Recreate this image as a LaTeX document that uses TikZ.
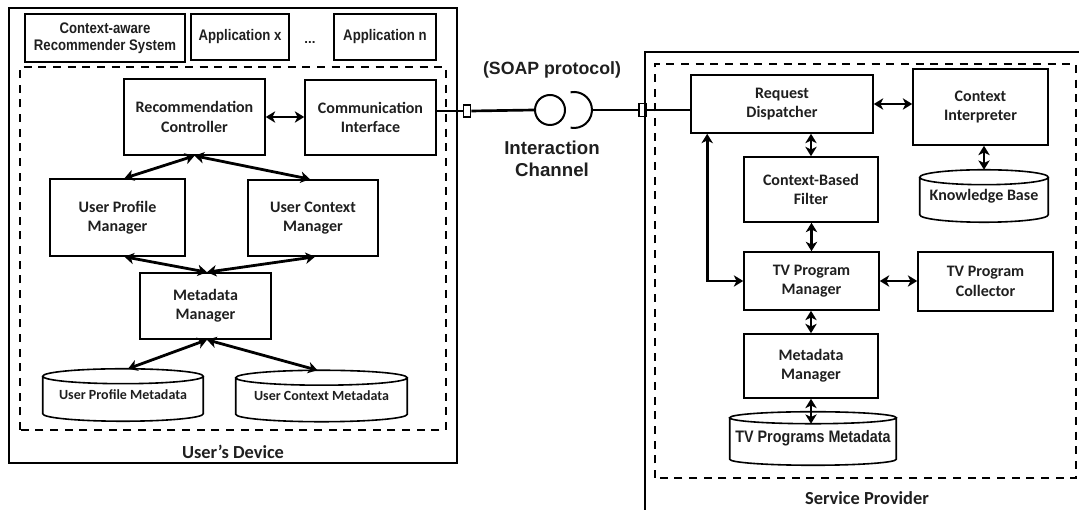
\documentclass[tikz,border=0pt]{standalone}
\usepackage{fontspec}
\usetikzlibrary{arrows.meta,calc}
\newfontfamily\calfont{Carlito}
\newfontfamily\arialfont{Liberation Sans}
\newfontfamily\narrowfont{Liberation Sans}[FakeStretch=0.86]
\definecolor{txt}{gray}{0.12}

% outline of a drum (database) around a named node: #1 node, #2 y radius of the ellipses
\newcommand\drumoutline[2]{%
  \draw[line width=1.2pt] let \p1=($(#1.north east)-(#1.north west)$), \n1={0.5*\x1} in
    (#1.north west) -- (#1.south west)
    arc[start angle=180, end angle=360, x radius=\n1, y radius=#2]
    -- (#1.north east)
    (#1.north) ellipse[x radius=\n1, y radius=#2];
}

\tikzset{
  sz/.style 2 args={minimum width=#1*0.75pt, minimum height=#2*0.75pt},
  comp/.style={draw, line width=1.2pt, align=center, inner sep=0pt, text=txt,
    font=\calfont\bfseries\fontsize{12}{14.5}\selectfont},
  app/.style={draw, line width=1.2pt, align=center, inner sep=0pt, text=txt,
    font=\narrowfont\bfseries\fontsize{11.5}{13}\selectfont},
  drum/.style={inner sep=0pt, align=center, text=txt},
  tip/.tip={Stealth[length=7pt,width=8.5pt,inset=2pt]},
  biarr/.style={line width=2.1pt, tip-tip},
  frame/.style={line width=1.5pt},
  zone/.style={line width=1.5pt, dash pattern=on 6pt off 5pt},
  wire/.style={line width=2pt},
  port/.style={draw, line width=1.2pt, fill=white, inner sep=0pt},
  caption/.style={text=txt, font=\calfont\bfseries\fontsize{13.8}{16}\selectfont},
}

\begin{document}
\begin{tikzpicture}[x=0.75pt,y=0.75pt]
\useasboundingbox (0,0) rectangle (1079,510);
\clip (0,0) rectangle (1079,510);

% ---------------- user's device ----------------
\draw[frame] (9,47) rectangle (457,502);
\node[app, sz={160}{48}] (cars) at (105,472) {Context-aware\\Recommender System};
\node[app, sz={98}{46}] (appx) at (240,473) {Application x};
\node[text=txt, font=\arialfont\bfseries\fontsize{10}{12}\selectfont] (dots) at (310,467) {...};
\node[app, sz={102}{46}] (appn) at (385,473) {Application n};
\draw[zone] (20,80) rectangle (446,443);

\node[comp, sz={141}{76}] (RC) at (194.5,393) {Recommendation\\Controller};
\node[comp, sz={131}{75}] (CI) at (370.5,392.5) {Communication\\Interface};
\node[comp, sz={135}{77}] (UPM) at (117.5,292.5) {User Profile\\Manager};
\node[comp, sz={130}{76}] (UCM) at (313,292) {User Context\\Manager};
\node[comp, sz={131}{66}] (MM) at (205.5,204) {Metadata\\Manager};
\node[drum, sz={160}{37}, font=\calfont\bfseries\fontsize{10.5}{12.5}\selectfont] (UPMD) at (123,115) {User Profile Metadata};
\node[drum, sz={171}{36}, font=\calfont\bfseries\fontsize{10.5}{12.5}\selectfont] (UCMD) at (321.5,114) {User Context Metadata};
\drumoutline{UPMD}{5.6pt}
\drumoutline{UCMD}{5.6pt}
\node[caption] (devcap) at (233,58) {User’s Device};

\draw[biarr] (RC.east) -- (RC.east -| CI.west);
\draw[biarr] (RC.south) -- ($(UPM.north)+(7,0)$);
\draw[biarr] (RC.south) -- ($(UCM.north)+(-3,0)$);
\draw[biarr] ($(UPM.south)+(7,0)$) -- ($(MM.north)+(1.5,0)$);
\draw[biarr] ($(UCM.south)+(2,0)$) -- ($(MM.north)+(1.5,0)$);
\draw[biarr] ($(MM.south)+(1.5,0)$) -- ($(UPMD.north)+(5,7.5)$);
\draw[biarr] ($(MM.south)+(1.5,0)$) -- ($(UCMD.north)+(-4,7.5)$);

% ---------------- interaction channel ----------------
\node[port, sz={7}{12}] (lport) at (467,399) {};
\node[draw, circle, line width=1.5pt, minimum size=30*0.75pt, inner sep=0pt] (plug) at (550,400) {};
\draw[line width=1.5pt] (574,400) ++(101:18) arc[start angle=101, end angle=-101, radius=18];
\coordinate (sock) at (592,400);
\node[port, sz={7}{13}] (rport) at (642.5,400) {};
\draw[wire] (CI.east |- lport) -- (lport.west);
\draw[wire] (lport.east) -- (plug.west);
\draw[wire] (sock) -- (rport.west);
\node[text=txt, font=\arialfont\bfseries\fontsize{13.3}{16}\selectfont] (soap) at (552,440) {(SOAP protocol)};
\node[text=txt, align=center, font=\arialfont\bfseries\fontsize{14}{16.5}\selectfont] (chan) at (552,351) {Interaction\\Channel};

% ---------------- service provider ----------------
\draw[frame] (1095,458) -- (645,458) -- (645,-10);
\draw[zone] (655,32) rectangle (1076,446);

\node[comp, sz={182}{58}] (RD) at (782,406) {Request\\Dispatcher};
\node[comp, sz={135}{76}] (CtxI) at (980.5,403) {Context\\Interpreter};
\node[comp, sz={134}{65}] (CBF) at (811,320.5) {Context-Based\\Filter};
\node[drum, sz={128}{37}, font=\calfont\bfseries\fontsize{12}{14}\selectfont] (KB) at (984,314) {Knowledge Base};
\node[comp, sz={135}{58}] (TVPM) at (811.5,229) {TV Program\\Manager};
\node[comp, sz={135}{59}] (TVPC) at (985.5,228.5) {TV Program\\Collector};
\node[comp, sz={134}{64}] (RMM) at (811,144) {Metadata\\Manager};
\node[drum, sz={166}{41}, font=\narrowfont\bfseries\fontsize{12.5}{14.5}\selectfont] (TPMD) at (813,71.5) {TV Programs Metadata};
\drumoutline{KB}{5.6pt}
\drumoutline{TPMD}{4.5pt}
\node[caption] (spcap) at (867,12) {Service Provider};

\draw[wire] (rport.east) -- (RD.west |- rport);
\draw[biarr] (RD.east) -- (RD.east -| CtxI.west);
\draw[biarr] (CBF.north) -- (CBF.north |- RD.south);
\draw[biarr] ($(KB.north)+(0,7.5)$) -- (KB.north |- CtxI.south);
\draw[biarr] (TVPM.north) -- (TVPM.north |- CBF.south);
\draw[biarr] (TVPM.east) -- (TVPM.east -| TVPC.west);
\draw[biarr] (RMM.north) -- (RMM.north |- TVPM.south);
\draw[biarr] (RMM.south) -- ($(RMM.south |- TPMD.north)+(0,-6)$);
\draw[biarr] (TVPM.west) -| ($(RD.south west)+(17,0)$);
\end{tikzpicture}
\end{document}
